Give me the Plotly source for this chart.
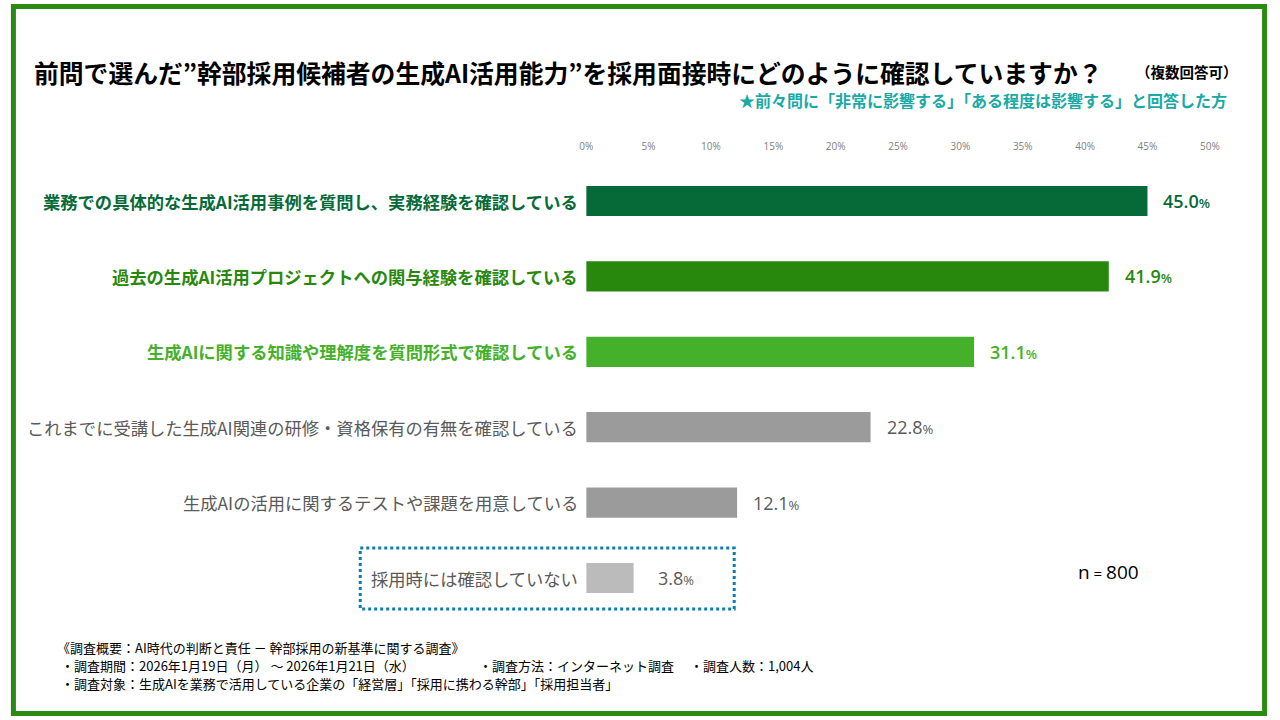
import plotly.graph_objects as go

# データ
categories = [
    '業務での具体的な生成AI活用事例を質問し、実務経験を確認している',
    '過去の生成AI活用プロジェクトへの関与経験を確認している',
    '生成AIに関する知識や理解度を質問形式で確認している',
    'これまでに受講した生成AI関連の研修・資格保有の有無を確認している',
    '生成AIの活用に関するテストや課題を用意している',
    '採用時には確認していない',
]
values = [45.0, 41.9, 31.1, 22.8, 12.1, 3.8]
bar_colors = ['#056A38', '#28880E', '#45B02A', '#9B9B9B', '#9B9B9B', '#BBBBBB']
label_colors = ['#056A38', '#28880E', '#45B02A', '#595959', '#595959', '#595959']
tick_vals = [0, 5, 10, 15, 20, 25, 30, 35, 40, 45, 50]
tick_text = ['0%', '5%', '10%', '15%', '20%', '25%', '30%', '35%', '40%', '45%', '50%']

W, H = 1280, 720
JP = 'Noto Sans CJK JP'
NUM = 'Open Sans'


def px(x):
    return x / W


def py(y):
    return 1 - y / H


fig = go.Figure()

fig.add_trace(go.Bar(
    x=values,
    y=categories,
    orientation='h',
    width=0.4,
    marker=dict(color=bar_colors, line=dict(width=0)),
    hoverinfo='skip',
))

annotations = []

# 項目ラベル
for i, (cat, col) in enumerate(zip(categories, label_colors)):
    bold = i < 3
    annotations.append(dict(
        x=px(581), xref='paper', y=cat, yref='y',
        xanchor='right', yanchor='middle',
        text=f'<b>{cat}</b>' if bold else cat,
        showarrow=False,
        font=dict(family=JP, size=17.3, color=col),
    ))

# 数値ラベル
for i, (cat, v, col) in enumerate(zip(categories, values, label_colors)):
    txt = f'{v:.1f}<span style="font-size:13px">%</span>'
    annotations.append(dict(
        x=v, xref='x', y=cat, yref='y',
        xanchor='left', yanchor='middle', xshift=14 if i < 5 else 22,
        text=txt,
        showarrow=False,
        font=dict(family=NUM, size=18, color=col, weight=600 if i < 3 else 400),
    ))

# タイトル
annotations.append(dict(
    x=px(25), xref='paper', y=py(72), yref='paper',
    xanchor='left', yanchor='middle',
    text='<b>前問で選んだ”幹部採用候補者の生成AI活用能力”を採用面接時にどのように確認していますか？</b>',
    showarrow=False,
    font=dict(family=JP, size=24.8, color='#000000'),
))
annotations.append(dict(
    x=px(1250), xref='paper', y=py(72), yref='paper',
    xanchor='right', yanchor='middle',
    text='<b>（複数回答可）</b>',
    showarrow=False,
    font=dict(family=JP, size=14.5, color='#000000'),
))
annotations.append(dict(
    x=px(1238), xref='paper', y=py(100), yref='paper',
    xanchor='right', yanchor='middle',
    text='<b>★前々問に「非常に影響する」「ある程度は影響する」と回答した方</b>',
    showarrow=False,
    font=dict(family=JP, size=16, color='#19A9A6'),
))

# n数
annotations.append(dict(
    x=px(1116), xref='paper', y=py(572), yref='paper',
    xanchor='center', yanchor='middle',
    text='n<span style="font-size:15px"> = </span>800',
    showarrow=False,
    font=dict(family=NUM, size=19, color='#000000'),
))

# 調査概要
footer = [
    (49, 647, '《調査概要：AI時代の判断と責任 － 幹部採用の新基準に関する調査》'),
    (53, 665, '・調査期間：2026年1月19日（月） ～ 2026年1月21日（水）'),
    (476, 665, '・調査方法：インターネット調査'),
    (690, 665, '・調査人数：1,004人'),
    (53, 683, '・調査対象：生成AIを業務で活用している企業の「経営層」「採用に携わる幹部」「採用担当者」'),
]
for fx, fy, ft in footer:
    annotations.append(dict(
        x=px(fx), xref='paper', y=py(fy), yref='paper',
        xanchor='left', yanchor='middle',
        text=ft, showarrow=False,
        font=dict(family=JP, size=13, color='#000000'),
    ))

shapes = [
    # 外枠
    dict(type='rect', xref='paper', yref='paper',
         x0=px(6.5), x1=px(1274.5), y0=py(6.5), y1=py(713.5),
         line=dict(color='#2B8A11', width=5), fillcolor='rgba(0,0,0,0)'),
    # 点線枠
    dict(type='rect', xref='paper', yref='paper',
         x0=px(358), x1=px(737), y0=py(548), y1=py(609),
         line=dict(color='#0A7DB3', width=3, dash='dot'), fillcolor='rgba(0,0,0,0)'),
]

fig.update_layout(
    width=W, height=H,
    margin=dict(l=0, r=0, t=0, b=0),
    paper_bgcolor='white',
    plot_bgcolor='white',
    showlegend=False,
    annotations=annotations,
    shapes=shapes,
    xaxis=dict(
        domain=[px(587), px(1219)],
        range=[0, 50],
        side='top',
        tickmode='array',
        tickvals=tick_vals,
        ticktext=tick_text,
        tickfont=dict(family=NUM, size=10, color='#808080'),
        showgrid=False, zeroline=False, showline=False,
        ticks='outside', ticklen=8, tickcolor='rgba(0,0,0,0)',
    ),
    yaxis=dict(
        domain=[py(615.7), py(163.3)],
        autorange='reversed',
        showticklabels=False,
        showgrid=False, zeroline=False, showline=False,
    ),
)

fig.write_html(
    'out.html',
    config={'displayModeBar': False},
    post_script="document.body.style.margin='0';document.body.style.overflow='hidden';",
)
